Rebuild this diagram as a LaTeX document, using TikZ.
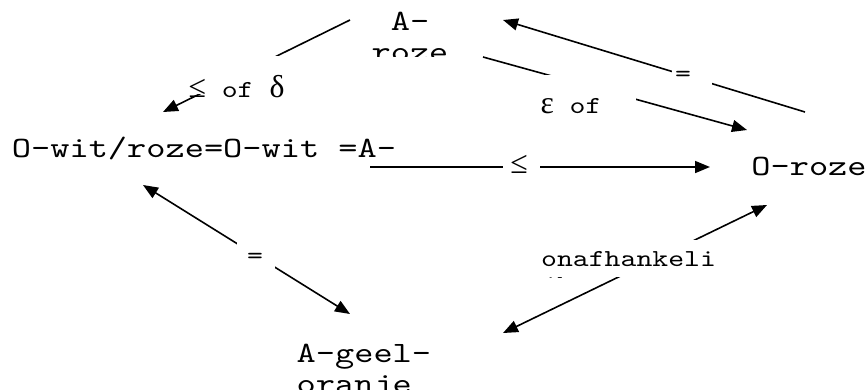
\documentclass[tikz,border=0pt]{standalone}
\usepackage{fontspec}
\newfontfamily\courfont[FakeStretch=1.24]{lmmono10-regular.otf}
\newfontfamily\symbfont[Scale=1.3]{Liberation Serif}
\usetikzlibrary{arrows.meta, calc}

\begin{document}
\begin{tikzpicture}[
  x=1pt, y=-1pt,
  every node/.style={font=\courfont},
  ntxt/.style ={inner sep=0pt, font=\courfont\fontsize{29.5}{31}\selectfont},
  nbox/.style ={rectangle, inner sep=0pt},
  gap/.style  ={rectangle, fill=white, inner sep=0pt},
  lbl/.style  ={inner sep=0pt, font=\courfont\fontsize{24.4}{26}\selectfont},
  arr/.style  ={-{Triangle[length=15pt, width=12pt]}, line width=1.6pt},
  dbl/.style  ={{Triangle[length=15pt, width=12pt]}-{Triangle[length=15pt, width=12pt]},
                line width=1.6pt},
]
\useasboundingbox (0,0) rectangle (867,389);

%% ---- nodes (all in px, y down) ----
\node[ntxt, anchor=base] (owit)  at (204,157) {O-wit/roze=O-wit =A-};
\node[ntxt, anchor=base] (oroze) at (809,175) {O-roze};
\node[nbox, minimum width=153, minimum height=56] (aroze) at (426.5,28) {};
\node[nbox, minimum width=213, minimum height=75] (ageel) at (396.5,351.5) {};

%% text of the boxes, cut at the box edge (base = last line)
\begin{scope}
  \clip (aroze.north west) rectangle (aroze.south east);
  \node[ntxt, align=center, anchor=base] at (410,61) {A-\\roze};
\end{scope}
\begin{scope}
  \clip (ageel.north west) rectangle (ageel.south east);
  \node[ntxt, align=left, anchor=base west] at (296.5,393) {A-geel-\\oranje};
\end{scope}

%% ---- connectors ----
\draw[arr] ($(aroze.center)+(-76.5,-8)$) -- ($(owit.base)+(-41,-45)$);
\draw[arr] ($(aroze.center)+(56.5,29)$)  -- ($(oroze.base)+(-62,-45)$);
\draw[arr] ($(oroze.base)+(-4,-63)$)     -- ($(aroze.center)+(76.5,-8)$);
\draw[arr] ($(owit.base)+(166,10)$)      -- ($(oroze.base)+(-99,-8)$);
\draw[dbl] ($(owit.base)+(-61,28)$)      -- ($(ageel.center)+(-46.5,-37.5)$);
\draw[dbl] ($(oroze.base)+(-42,30)$)     -- ($(ageel.center)+(106.5,-18.5)$);

%% ---- labels on the connectors ----
\node[gap, minimum width=93, minimum height=38,
      label={[lbl, anchor=base, yshift=-12pt]center:{\symbfont ≤} of {\symbfont δ}}] (lle) at (236.5,75) {};
\node[gap, minimum width=130, minimum height=48,
      label={[lbl, anchor=base, yshift=-7pt]center:{\symbfont ε} of}] (leps) at (571,99) {};
\node[gap, minimum width=40, minimum height=24,
      label={[lbl, xshift=-9pt]center:=}] (leqr) at (692,76) {};
\node[gap, minimum width=37, minimum height=25,
      label={[lbl, xshift=-2.5pt, yshift=3.5pt]center:{\symbfont ≤}}] (lleh) at (521.5,167.5) {};
\node[gap, minimum width=38, minimum height=32,
      label={[lbl, xshift=-1pt, yshift=-2.5pt]center:=}] (leql) at (256,256) {};

\node[gap, minimum width=180, minimum height=37] (lonaf) at (630,258.5) {};
\begin{scope}
  \clip (lonaf.north west) rectangle (lonaf.south east);
  \node[lbl, align=left, anchor=base west] at (541,292) {onafhankeli\\jk};
\end{scope}

\end{tikzpicture}
\end{document}
